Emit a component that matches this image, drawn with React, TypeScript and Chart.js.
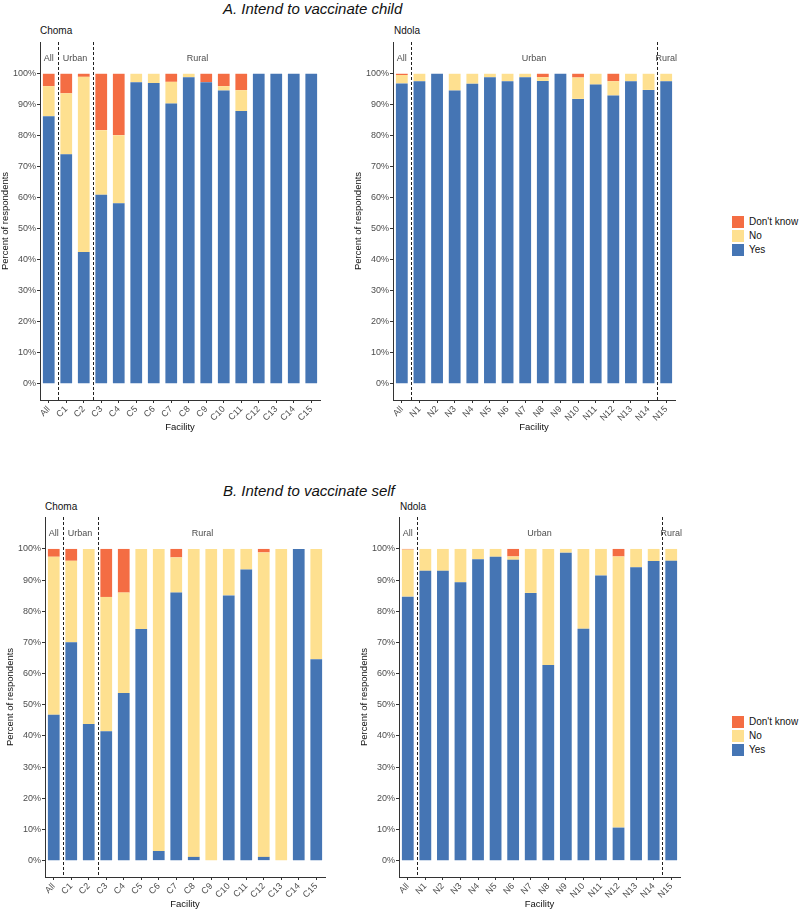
import React, { useEffect, useRef } from 'react';
import { Chart, registerables } from 'chart.js';
Chart.register(...registerables);

const FONT = '"Liberation Sans", Arial, Helvetica, sans-serif';
Chart.defaults.font.family = FONT;

// ---------- categories ----------
const chomaLabels = ['All', 'C1', 'C2', 'C3', 'C4', 'C5', 'C6', 'C7', 'C8', 'C9', 'C10', 'C11', 'C12', 'C13', 'C14', 'C15'];
const ndolaLabels = ['All', 'N1', 'N2', 'N3', 'N4', 'N5', 'N6', 'N7', 'N8', 'N9', 'N10', 'N11', 'N12', 'N13', 'N14', 'N15'];
const yTickValues = [0, 10, 20, 30, 40, 50, 60, 70, 80, 90, 100];

// dashed separators (placed before these category indices)
const chomaSeparators = [1, 3];
const ndolaSeparators = [1, 15];
// group labels (text, category position)
const chomaGroupText = ['All', 'Urban', 'Rural'];
const chomaGroupPos = [0, 1.5, 8.5];
const ndolaGroupText = ['All', 'Urban', 'Rural'];
const ndolaGroupPos = [0, 7.5, 15];

// ---------- A. Intend to vaccinate child ----------
const childChomaYes = [86.3, 74, 42.5, 61, 58.2, 97.3, 97, 90.4, 98.9, 97.3, 94.6, 88, 100, 100, 100, 100];
const childChomaNo = [9.7, 19.7, 56.5, 20.8, 22, 2.7, 3, 7, 1.1, 0, 1.4, 6.7, 0, 0, 0, 0];
const childChomaDk = [4, 6.3, 1, 18.2, 19.8, 0, 0, 2.6, 0, 2.7, 4, 5.3, 0, 0, 0, 0];

const childNdolaYes = [96.9, 97.6, 100, 94.6, 96.8, 98.9, 97.6, 98.9, 97.7, 100, 91.9, 96.5, 93, 97.6, 94.8, 97.6];
const childNdolaNo = [2.7, 2.4, 0, 5.4, 3.2, 1.1, 2.4, 1.1, 1.2, 0, 6.9, 3.5, 4.6, 2.4, 5.2, 2.4];
const childNdolaDk = [0.4, 0, 0, 0, 0, 0, 0, 0, 1.1, 0, 1.2, 0, 2.4, 0, 0, 0];

// ---------- B. Intend to vaccinate self ----------
const selfChomaYes = [46.8, 70.1, 43.8, 41.5, 53.8, 74.3, 3.1, 86, 1.2, 0, 85.1, 93.4, 1.2, 0, 100, 64.6];
const selfChomaNo = [50.7, 26.1, 56.2, 43.1, 32.2, 25.7, 96.9, 11.3, 98.8, 100, 14.9, 6.6, 97.7, 100, 0, 35.4];
const selfChomaDk = [2.5, 3.8, 0, 15.4, 14, 0, 0, 2.7, 0, 0, 0, 0, 1.1, 0, 0, 0];

const selfNdolaYes = [84.7, 93, 93, 89.3, 96.7, 97.5, 96.5, 85.9, 62.8, 98.8, 74.4, 91.5, 10.6, 94.1, 96.1, 96.2];
const selfNdolaNo = [15.1, 7, 7, 10.7, 3.3, 2.5, 1.1, 14.1, 37.2, 1.2, 25.6, 8.5, 87, 5.9, 3.9, 3.8];
const selfNdolaDk = [0.2, 0, 0, 0, 0, 0, 2.4, 0, 0, 0, 0, 0, 2.4, 0, 0, 0];

const seriesNames = ["Yes", "No", "Don't know"];
const COLORS = { yes: '#4575b4', no: '#fee090', dk: '#f46d43' };

type PanelProps = {
  labels: string[];
  yes: number[];
  no: number[];
  dk: number[];
  separators: number[];
  groupText: string[];
  groupPos: number[];
  left: number;
  top: number;
  width: number;
  height: number;
};

function Panel(p: PanelProps) {
  const ref = useRef<HTMLCanvasElement>(null);
  useEffect(() => {
    if (!ref.current) return;
    const annot = {
      id: 'annot',
      afterDatasetsDraw(chart: any) {
        const { ctx, chartArea, scales } = chart;
        const x = scales.x, y = scales.y;
        ctx.save();
        ctx.strokeStyle = '#222';
        ctx.lineWidth = 1;
        ctx.setLineDash([3, 2]);
        for (const s of p.separators) {
          const px = Math.round(x.getPixelForValue(s - 0.5)) + 0.5;
          ctx.beginPath();
          ctx.moveTo(px, chartArea.top);
          ctx.lineTo(px, chartArea.bottom);
          ctx.stroke();
        }
        ctx.setLineDash([]);
        ctx.fillStyle = '#4d4d4d';
        ctx.font = '9px ' + FONT;
        ctx.textAlign = 'center';
        ctx.textBaseline = 'middle';
        p.groupText.forEach((t, i) => {
          ctx.fillText(t, x.getPixelForValue(p.groupPos[i]), y.getPixelForValue(105));
        });
        ctx.restore();
      },
    };
    const chart = new Chart(ref.current, {
      type: 'bar',
      data: {
        labels: p.labels,
        datasets: [
          { label: seriesNames[0], data: p.yes, backgroundColor: COLORS.yes, borderWidth: 0 },
          { label: seriesNames[1], data: p.no, backgroundColor: COLORS.no, borderWidth: 0 },
          { label: seriesNames[2], data: p.dk, backgroundColor: COLORS.dk, borderWidth: 0 },
        ],
      },
      options: {
        responsive: false,
        animation: false,
        devicePixelRatio: 1,
        layout: { padding: { top: 12, right: 10, left: 0, bottom: 0 } },
        datasets: { bar: { barPercentage: 0.67, categoryPercentage: 1 } },
        plugins: { legend: { display: false }, tooltip: { enabled: false }, title: { display: false } },
        scales: {
          x: {
            stacked: true,
            offset: true,
            afterFit: (s: any) => { s.height = 33; },
            grid: { display: true, drawOnChartArea: false, drawTicks: true, tickLength: 3, offset: false, color: '#333' },
            border: { display: true, color: '#333', width: 1 },
            ticks: { autoSkip: false, minRotation: 45, maxRotation: 45, color: '#4d4d4d', font: { size: 9 }, padding: 1 },
            title: { display: true, text: 'Facility', color: '#111', font: { size: 9.5 }, padding: { top: 0, bottom: 0 } },
          },
          y: {
            stacked: true,
            min: -5.25,
            max: 110.25,
            afterFit: (s: any) => { s.width = 40; },
            afterBuildTicks: (s: any) => { s.ticks = yTickValues.map((v) => ({ value: v })); },
            grid: { display: true, drawOnChartArea: false, drawTicks: true, tickLength: 3, color: '#333' },
            border: { display: true, color: '#333', width: 1 },
            ticks: { color: '#4d4d4d', font: { size: 9 }, padding: 1, callback: (v: any) => v + '%' },
            title: { display: true, text: 'Percent of respondents', color: '#111', font: { size: 9.5 }, padding: { top: 0, bottom: 0 } },
          },
        },
      },
      plugins: [annot],
    } as any);
    return () => chart.destroy();
  }, []);
  return (
    <canvas
      ref={ref}
      width={p.width}
      height={p.height}
      style={{ position: 'absolute', left: p.left, top: p.top, width: p.width, height: p.height }}
    />
  );
}

function Legend({ left, top }: { left: number; top: number }) {
  const items = [
    { c: COLORS.dk, t: seriesNames[2] },
    { c: COLORS.no, t: seriesNames[1] },
    { c: COLORS.yes, t: seriesNames[0] },
  ];
  return (
    <div style={{ position: 'absolute', left, top }}>
      {items.map((it, i) => (
        <div key={i} style={{ position: 'absolute', left: 0, top: i * 14, height: 12, display: 'flex', alignItems: 'center', whiteSpace: 'nowrap' }}>
          <div style={{ width: 12, height: 12, background: it.c }} />
          <span style={{ marginLeft: 5, fontSize: 10, color: '#111', lineHeight: '12px' }}>{it.t}</span>
        </div>
      ))}
    </div>
  );
}

const textStyle = (left: number, top: number, size: number, italic = false): React.CSSProperties => ({
  position: 'absolute',
  left,
  top,
  fontSize: size,
  lineHeight: size + 2 + 'px',
  fontStyle: italic ? 'italic' : 'normal',
  color: '#111',
  whiteSpace: 'nowrap',
});

export default function App() {
  return (
    <div style={{ position: 'fixed', left: 0, top: 0, width: 800, height: 910, overflow: 'hidden', background: '#fff', fontFamily: FONT }}>
      <div style={textStyle(223, 0, 15, true)}>A. Intend to vaccinate child</div>
      <div style={textStyle(40, 25, 10)}>Choma</div>
      <div style={textStyle(394, 25, 10)}>Ndola</div>
      <Panel labels={chomaLabels} yes={childChomaYes} no={childChomaNo} dk={childChomaDk}
        separators={chomaSeparators} groupText={chomaGroupText} groupPos={chomaGroupPos}
        left={0} top={30} width={330} height={403} />
      <Panel labels={ndolaLabels} yes={childNdolaYes} no={childNdolaNo} dk={childNdolaDk}
        separators={ndolaSeparators} groupText={ndolaGroupText} groupPos={ndolaGroupPos}
        left={353} top={30} width={332} height={403} />
      <Legend left={732} top={216} />

      <div style={textStyle(223, 482, 15, true)}>B. Intend to vaccinate self</div>
      <div style={textStyle(45, 501, 10)}>Choma</div>
      <div style={textStyle(400, 501, 10)}>Ndola</div>
      <Panel labels={chomaLabels} yes={selfChomaYes} no={selfChomaNo} dk={selfChomaDk}
        separators={chomaSeparators} groupText={chomaGroupText} groupPos={chomaGroupPos}
        left={5} top={505} width={330} height={405} />
      <Panel labels={ndolaLabels} yes={selfNdolaYes} no={selfNdolaNo} dk={selfNdolaDk}
        separators={ndolaSeparators} groupText={ndolaGroupText} groupPos={ndolaGroupPos}
        left={359} top={505} width={331} height={405} />
      <Legend left={732} top={716} />
    </div>
  );
}
